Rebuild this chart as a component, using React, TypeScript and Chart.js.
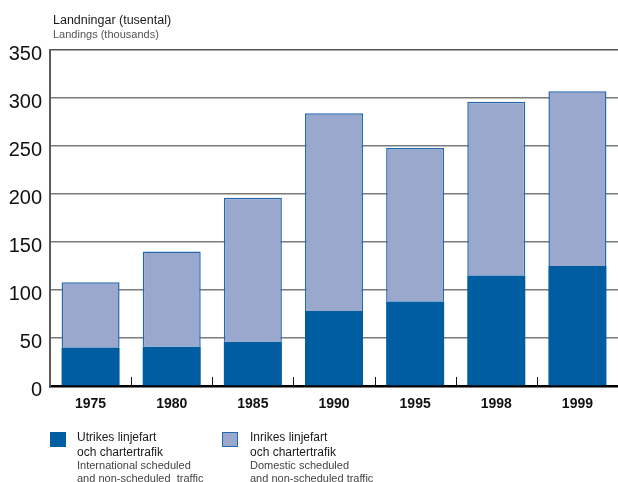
import React, { useEffect, useRef } from "react";
import { Chart, registerables } from "chart.js";

Chart.register(...registerables);

const years = ["1975", "1980", "1985", "1990", "1995", "1998", "1999"];
const international = [40, 41, 46, 78, 88, 115, 125];
const domestic = [68, 99, 150, 206, 160, 181, 182];
const yTicks = [0, 50, 100, 150, 200, 250, 300, 350];

const DARK = "#005da2";
const LIGHT = "#99a8cc";
const LIGHT_BORDER = "#2468b0";
const FONT = "'Liberation Sans', Arial, Helvetica, sans-serif";

const tickPlugin = {
  id: "innerTicks",
  afterDraw(chart: any) {
    const x = chart.scales.x;
    const area = chart.chartArea;
    const ctx = chart.ctx;
    ctx.save();
    ctx.strokeStyle = "#111";
    ctx.lineWidth = 1;
    for (let i = 1; i < years.length; i++) {
      const px = Math.round((x.getPixelForValue(i - 1) + x.getPixelForValue(i)) / 2) + 0.5;
      ctx.beginPath();
      ctx.moveTo(px, area.bottom);
      ctx.lineTo(px, area.bottom - 9);
      ctx.stroke();
    }
    ctx.restore();
  },
};

export default function App() {
  const ref = useRef<HTMLCanvasElement | null>(null);

  useEffect(() => {
    if (!ref.current) return;
    const chart = new Chart(ref.current, {
      type: "bar",
      data: {
        labels: years,
        datasets: [
          {
            label: "Utrikes linjefart och chartertrafik",
            data: international,
            backgroundColor: DARK,
            borderWidth: 0,
          },
          {
            label: "Inrikes linjefart och chartertrafik",
            data: domestic,
            backgroundColor: LIGHT,
            borderColor: LIGHT_BORDER,
            borderWidth: 1.5,
            borderSkipped: "bottom",
          },
        ],
      },
      options: {
        responsive: false,
        animation: false,
        layout: { padding: { top: 50, left: 0, right: 0, bottom: 0 } },
        plugins: {
          legend: { display: false },
          tooltip: { enabled: false },
          title: { display: false },
        },
        datasets: {
          bar: { categoryPercentage: 1, barPercentage: 0.715 },
        },
        scales: {
          x: {
            stacked: true,
            offset: true,
            grid: { display: false, drawTicks: false },
            border: { display: true, color: "#000", width: 2.5 },
            ticks: {
              padding: 10,
              color: "#111",
              font: { family: FONT, size: 14, weight: "bold" },
            },
            afterFit: (s: any) => {
              s.height = 96;
            },
          },
          y: {
            stacked: true,
            min: 0,
            max: 350,
            afterBuildTicks: (s: any) => {
              s.ticks = yTicks.map((v) => ({ value: v }));
            },
            grid: {
              drawTicks: false,
              lineWidth: 1.6,
              color: (c: any) => (c.tick && c.tick.value === 350 ? "#555" : "#7a7a7a"),
            },
            border: { display: true, color: "#5a5a5a", width: 2 },
            ticks: {
              padding: 8,
              labelOffset: 4,
              color: "#111",
              font: { family: FONT, size: 20 },
            },
            afterFit: (s: any) => {
              s.width = 50;
            },
          },
        },
      },
      plugins: [tickPlugin],
    });
    return () => chart.destroy();
  }, []);

  const textBase: React.CSSProperties = {
    position: "absolute",
    fontFamily: FONT,
    whiteSpace: "nowrap",
    margin: 0,
  };

  return (
    <div
      style={{
        position: "fixed",
        left: 0,
        top: 0,
        width: 618,
        height: 482,
        background: "#fff",
        overflow: "hidden",
      }}
    >
      <canvas ref={ref} width={618} height={482} style={{ position: "absolute", left: 0, top: 0 }} />
      <div style={{ ...textBase, left: 53, top: 13, fontSize: 12.5, color: "#1a1a1a" }}>
        Landningar (tusental)
      </div>
      <div style={{ ...textBase, left: 53, top: 28, fontSize: 11, color: "#555" }}>
        Landings (thousands)
      </div>

      <div
        style={{
          position: "absolute",
          left: 50,
          top: 432,
          width: 16,
          height: 15,
          background: DARK,
        }}
      />
      <div style={{ ...textBase, left: 77, top: 430, fontSize: 12, color: "#1a1a1a", lineHeight: "15px" }}>
        Utrikes linjefart
        <br />
        och chartertrafik
      </div>
      <div style={{ ...textBase, left: 77, top: 459, fontSize: 11, color: "#444", lineHeight: "13px" }}>
        International scheduled
        <br />
        and non-scheduled&nbsp; traffic
      </div>

      <div
        style={{
          position: "absolute",
          left: 222,
          top: 432,
          width: 14,
          height: 13,
          background: LIGHT,
          border: "1.5px solid " + LIGHT_BORDER,
        }}
      />
      <div style={{ ...textBase, left: 250, top: 430, fontSize: 12, color: "#1a1a1a", lineHeight: "15px" }}>
        Inrikes linjefart
        <br />
        och chartertrafik
      </div>
      <div style={{ ...textBase, left: 250, top: 459, fontSize: 11, color: "#444", lineHeight: "13px" }}>
        Domestic scheduled
        <br />
        and non-scheduled traffic
      </div>
    </div>
  );
}
